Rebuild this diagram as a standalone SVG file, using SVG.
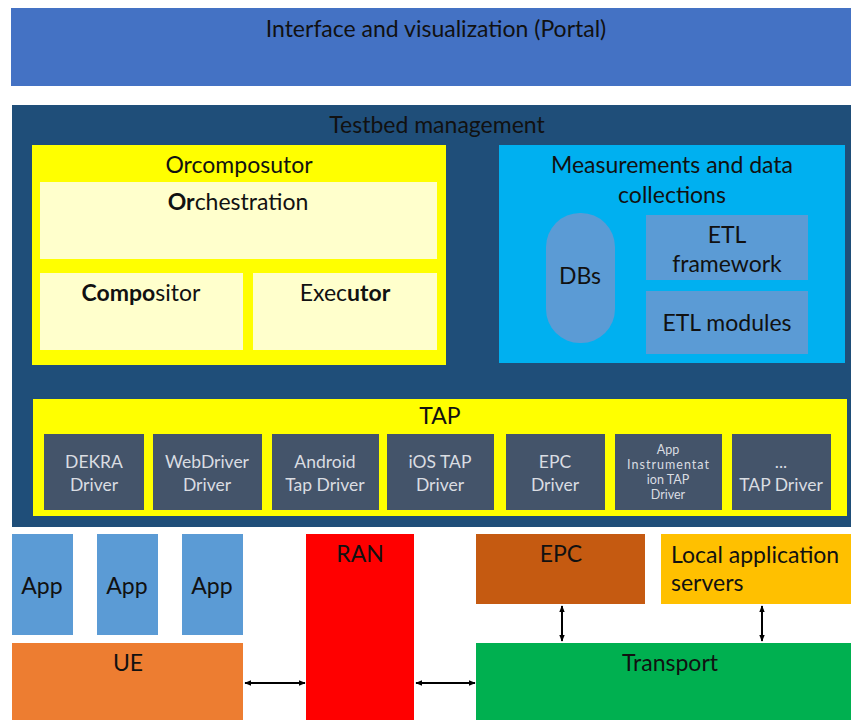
<svg xmlns="http://www.w3.org/2000/svg" width="851" height="720" viewBox="0 0 851 720">
<defs>
<marker id="ah" viewBox="0 0 10 10" refX="9" refY="5" markerWidth="7" markerHeight="7" orient="auto-start-reverse" markerUnits="userSpaceOnUse"><path d="M0,1 L10,5 L0,9 z" fill="#000"/></marker>
<style>
text{font-family:Lato,"Open Sans","Liberation Sans",sans-serif;fill:#111;text-anchor:middle}
.t20{font-size:23px}
.drv{fill:#44546A}
.drvt{font-size:17.5px;fill:#DADDE2}
.sm{font-size:12.5px}
.lt{fill:#FFFFCC}
.b{font-weight:bold}
.conn{stroke:#000;stroke-width:2;fill:none;marker-start:url(#ah);marker-end:url(#ah)}
</style>
</defs>
<rect width="851" height="720" fill="#fff"/>
<g id="portal"><rect x="11" y="8" width="840" height="78" fill="#4472C4"/><text class="t20" x="436" y="37">Interface and visualization (Portal)</text></g>
<g id="testbed"><rect x="12" y="105" width="839" height="422" fill="#1F4E79"/><text class="t20" x="437" y="133">Testbed management</text></g>
<g id="orcomposutor"><rect x="32" y="145" width="414" height="220" fill="#FFFF00"/><text class="t20" x="239" y="173">Orcomposutor</text></g>
<g id="orchestration"><rect class="lt" x="40" y="182" width="397" height="77"/><text class="t20" x="238" y="210"><tspan class="b">Or</tspan>chestration</text></g>
<g id="compositor"><rect class="lt" x="40" y="273" width="203" height="77"/><text class="t20" x="141" y="301"><tspan class="b">Compo</tspan>sitor</text></g>
<g id="executor"><rect class="lt" x="253" y="273" width="184" height="77"/><text class="t20" x="345" y="301">Exec<tspan class="b">utor</tspan></text></g>
<g id="measurements"><rect x="499" y="145" width="346" height="218" fill="#00B0F0"/><text class="t20" x="672" y="173">Measurements and data</text><text class="t20" x="672" y="203">collections</text></g>
<g id="dbs"><rect x="546" y="213" width="69" height="130" rx="34" ry="34" fill="#5B9BD5"/><text class="t20" x="580" y="284">DBs</text></g>
<g id="etl-framework"><rect x="646" y="215" width="162" height="65" fill="#5B9BD5"/><text class="t20" x="727" y="243">ETL</text><text class="t20" x="727" y="272">framework</text></g>
<g id="etl-modules"><rect x="646" y="291" width="162" height="63" fill="#5B9BD5"/><text class="t20" x="727" y="331">ETL modules</text></g>
<g id="tap"><rect x="33" y="399" width="814" height="117" fill="#FFFF00"/><text class="t20" x="440" y="424">TAP</text></g>
<g id="dekra"><rect class="drv" x="44" y="434" width="100" height="76"/><text class="drvt" x="94" y="468">DEKRA</text><text class="drvt" x="94" y="491">Driver</text></g>
<g id="webdriver"><rect class="drv" x="153" y="434" width="109" height="76"/><text class="drvt" x="207" y="468">WebDriver</text><text class="drvt" x="207" y="491">Driver</text></g>
<g id="android"><rect class="drv" x="272" y="434" width="107" height="76"/><text class="drvt" x="325" y="468">Android</text><text class="drvt" x="325" y="491">Tap Driver</text></g>
<g id="ios"><rect class="drv" x="387" y="434" width="107" height="76"/><text class="drvt" x="440" y="468">iOS TAP</text><text class="drvt" x="440" y="491">Driver</text></g>
<g id="epc-driver"><rect class="drv" x="506" y="434" width="99" height="76"/><text class="drvt" x="555" y="468">EPC</text><text class="drvt" x="555" y="491">Driver</text></g>
<g id="appinst"><rect class="drv" x="615" y="434" width="107" height="76"/><text class="drvt sm" x="668" y="454">App</text><text class="drvt sm" x="668" y="469" textLength="82" lengthAdjust="spacing">Instrumentat</text><text class="drvt sm" x="668" y="484">ion TAP</text><text class="drvt sm" x="668" y="499">Driver</text></g>
<g id="generic"><rect class="drv" x="732" y="434" width="99" height="76"/><text class="drvt" x="781" y="468">...</text><text class="drvt" x="781" y="491">TAP Driver</text></g>
<g id="app1"><rect x="12" y="534" width="61" height="101" fill="#5B9BD5"/><text class="t20" x="42" y="594">App</text></g>
<g id="app2"><rect x="97" y="534" width="61" height="101" fill="#5B9BD5"/><text class="t20" x="127" y="594">App</text></g>
<g id="app3"><rect x="182" y="534" width="61" height="101" fill="#5B9BD5"/><text class="t20" x="212" y="594">App</text></g>
<g id="ue"><rect x="12" y="643" width="231" height="77" fill="#ED7D31"/><text class="t20" x="128" y="671">UE</text></g>
<g id="ran"><rect x="306" y="534" width="108" height="186" fill="#FF0000"/><text class="t20" x="360" y="562">RAN</text></g>
<g id="epc"><rect x="476" y="534" width="169" height="70" fill="#C55A11"/><text class="t20" x="561" y="562">EPC</text></g>
<g id="local-servers"><rect x="661" y="534" width="190" height="70" fill="#FFC000"/><text class="t20" style="text-anchor:start" x="671" y="563">Local application</text><text class="t20" style="text-anchor:start" x="671" y="591">servers</text></g>
<g id="transport"><rect x="476" y="643" width="375" height="77" fill="#00B050"/><text class="t20" x="670" y="671">Transport</text></g>
<g id="connectors">
<line class="conn" x1="245" y1="683" x2="305" y2="683"/>
<line class="conn" x1="416" y1="683" x2="475" y2="683"/>
<line class="conn" x1="562" y1="606" x2="562" y2="641"/>
<line class="conn" x1="762" y1="606" x2="762" y2="641"/>
</g>
</svg>
